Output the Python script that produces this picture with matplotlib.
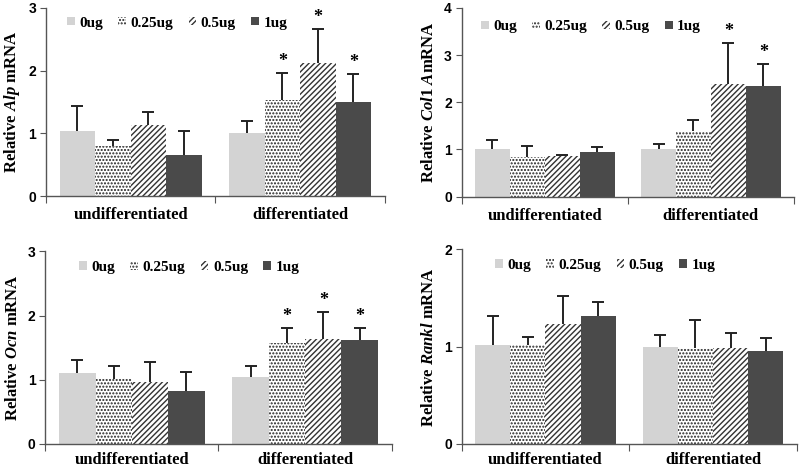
import numpy as np
import matplotlib
matplotlib.use("Agg")
import matplotlib.pyplot as plt
from matplotlib.patches import Patch

plt.rcParams['mathtext.fontset'] = 'custom'
plt.rcParams['mathtext.rm'] = 'Liberation Serif:bold'
plt.rcParams['mathtext.it'] = 'Liberation Serif:italic:bold'
plt.rcParams['mathtext.bf'] = 'Liberation Serif:bold'
plt.rcParams['hatch.linewidth'] = 1.0

categories = ["undifferentiated", "differentiated"]
doses = ["0ug", "0.25ug", "0.5ug", "1ug"]

# Alp
alp_mean = [[1.04, 0.80, 1.13, 0.65], [1.01, 1.53, 2.12, 1.50]]
alp_err = [[0.40, 0.10, 0.21, 0.39], [0.18, 0.43, 0.54, 0.45]]
alp_star = [[0, 0, 0, 0], [0, 1, 1, 1]]
# Col1A
col_mean = [[1.00, 0.84, 0.85, 0.94], [1.00, 1.38, 2.38, 2.35]]
col_err = [[0.20, 0.23, 0.04, 0.11], [0.11, 0.25, 0.87, 0.46]]
col_star = [[0, 0, 0, 0], [0, 0, 1, 1]]
# Ocn
ocn_mean = [[1.10, 1.01, 0.96, 0.83], [1.05, 1.58, 1.64, 1.62]]
ocn_err = [[0.20, 0.21, 0.31, 0.29], [0.17, 0.22, 0.42, 0.19]]
ocn_star = [[0, 0, 0, 0], [0, 1, 1, 1]]
# Rankl
rankl_mean = [[1.02, 1.02, 1.23, 1.31], [1.00, 0.99, 0.99, 0.96]]
rankl_err = [[0.29, 0.08, 0.29, 0.15], [0.12, 0.28, 0.15, 0.13]]
rankl_star = [[0, 0, 0, 0], [0, 0, 0, 0]]

panels = [
    dict(mean=alp_mean, err=alp_err, star=alp_star, ymax=3, yticks=[0, 1, 2, 3],
         ylabel=r'Relative $\mathit{Alp}$ mRNA',
         pos=[0.0575, 0.581, 0.4235, 0.402], leg=(0.062, 0.92), xpad=8),
    dict(mean=col_mean, err=col_err, star=col_star, ymax=4, yticks=[0, 1, 2, 3, 4],
         ylabel=r'Relative $\mathit{Col1\ A}$mRNA',
         pos=[0.577, 0.580, 0.4155, 0.403], leg=(0.058, 0.90), xpad=8),
    dict(mean=ocn_mean, err=ocn_err, star=ocn_star, ymax=3, yticks=[0, 1, 2, 3],
         ylabel=r'Relative $\mathit{Ocn}$ mRNA',
         pos=[0.0566, 0.0513, 0.433, 0.4117], leg=(0.098, 0.917), xpad=5.5),
    dict(mean=rankl_mean, err=rankl_err, star=rankl_star, ymax=2, yticks=[0, 1, 2],
         ylabel=r'Relative $\mathit{Rankl}$ mRNA',
         pos=[0.577, 0.0513, 0.419, 0.416], leg=(0.1, 0.919), xpad=5.5),
]

styles = [
    dict(facecolor='#d3d3d3', edgecolor='#d3d3d3', hatch=None),
    dict(facecolor='white', edgecolor='#222222', hatch='.....'),
    dict(facecolor='white', edgecolor='#333333', hatch='//////'),
    dict(facecolor='#4a4a4a', edgecolor='#4a4a4a', hatch=None),
]

fig = plt.figure(figsize=(8, 4.68), dpi=100)
w = 0.21
x = np.arange(len(categories))
serif = 'Liberation Serif'
sans = 'Liberation Sans'

for p in panels:
    ax = fig.add_axes(p['pos'])
    mean = np.array(p['mean'])
    err = np.array(p['err'])
    star = np.array(p['star'])
    for j, d in enumerate(doses):
        xs = x + (j - 1.5) * w
        st = styles[j]
        ax.bar(xs, mean[:, j], width=w, facecolor=st['facecolor'],
               edgecolor=st['edgecolor'], hatch=st['hatch'], linewidth=0, label=d, zorder=2)
        ax.errorbar(xs, mean[:, j], yerr=[np.zeros(len(xs)), err[:, j]], fmt='none',
                    ecolor='#222222', elinewidth=1.4, capsize=0, zorder=3)
        ax.plot(xs, mean[:, j] + err[:, j], linestyle='none', marker='_',
                markersize=8, markeredgewidth=1.4, color='#222222', zorder=3)
        for i in range(len(xs)):
            if star[i, j]:
                ax.text(xs[i], mean[i, j] + err[i, j] + 0.015 * p['ymax'], '*',
                        ha='center', va='bottom', fontsize=13, fontweight='bold',
                        family=serif)
    ax.set_xlim(-0.5, 1.5)
    ax.set_ylim(0, p['ymax'])
    ax.set_yticks(p['yticks'])
    ax.set_yticklabels([str(t) for t in p['yticks']], fontsize=10,
                       fontweight='bold', family=sans)
    ax.set_xticks([-0.5, 0.5, 1.5])
    ax.set_xticklabels([])
    ax.set_xticks(x, minor=True)
    ax.set_xticklabels(categories, minor=True, fontsize=12, fontweight='bold',
                       family=serif)
    ax.tick_params(axis='x', which='minor', length=0, pad=p['xpad'])
    ax.tick_params(axis='x', which='major', length=5, direction='out', color='#555555')
    ax.tick_params(axis='y', length=4, direction='out', color='#555555', pad=3)
    for s in ['top', 'right']:
        ax.spines[s].set_visible(False)
    for s in ['left', 'bottom']:
        ax.spines[s].set_color('#555555')
        ax.spines[s].set_linewidth(1.0)
    ax.set_ylabel(p['ylabel'], fontsize=12, fontweight='bold', family=serif, labelpad=5)
    handles = [Patch(facecolor=styles[j]['facecolor'], edgecolor=styles[j]['edgecolor'],
                     hatch=styles[j]['hatch'], linewidth=0, label=d)
               for j, d in enumerate(doses)]
    ax.legend(handles=handles, loc='center left', bbox_to_anchor=p['leg'], ncol=4,
              frameon=False, handlelength=0.5, handleheight=0.5, handletextpad=0.3,
              columnspacing=1.0, borderpad=0, borderaxespad=0,
              prop={'family': serif, 'weight': 'bold', 'size': 11})

fig.savefig('out.png', dpi=100)
